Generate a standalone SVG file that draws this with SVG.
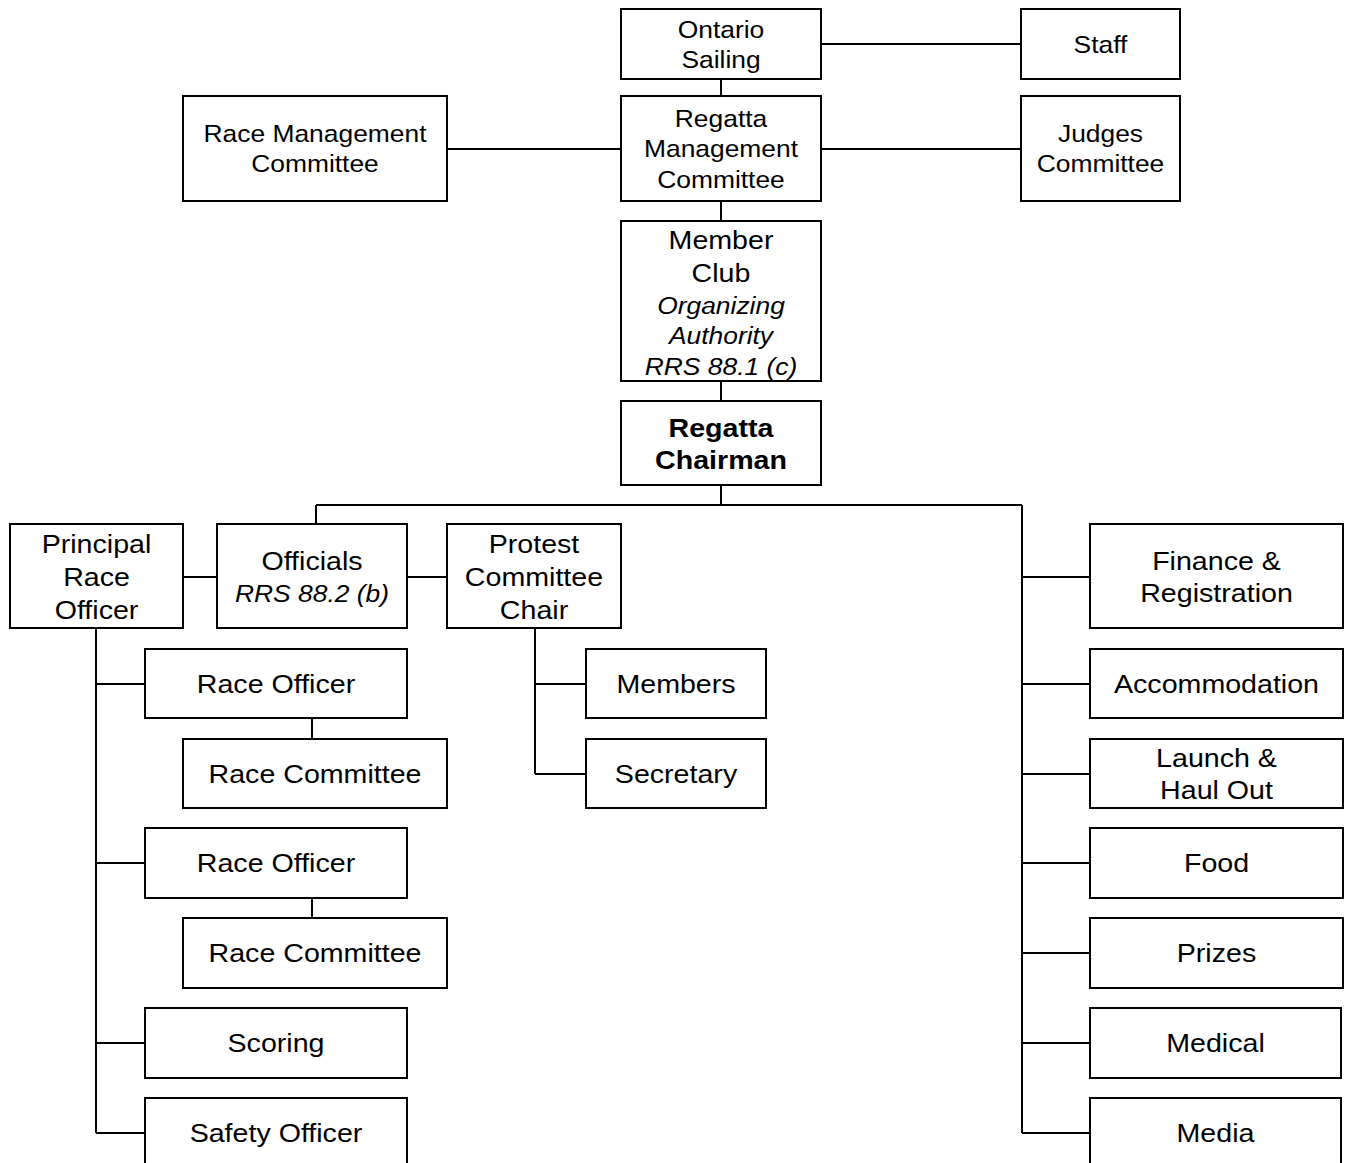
<svg xmlns="http://www.w3.org/2000/svg" width="1346" height="1163" viewBox="0 0 1346 1163">
<style>
.b{fill:#fff;stroke:#000;stroke-width:2}
.c{stroke:#000;stroke-width:2;fill:none}
text{font-family:"Liberation Sans",Arial,sans-serif;text-anchor:middle;fill:#000}
.s24{font-size:24px}
.s26{font-size:26px}
.i{font-style:italic}
.bd{font-weight:bold}
</style>
<rect width="1346" height="1163" fill="#fff"/>
<g id="connectors">
<path class="c" d="M821 44H1021M721 79V96M447 149H621M821 149H1021M721 201V221M721 381V401M721 485V505M316 505H1022M316 505V524M183 577H217M407 577H447"/>
<path class="c" d="M96 628V1133M96 684H145M96 863H145M96 1043H145M96 1133H145M312 718V739M312 898V918"/>
<path class="c" d="M535 628V774M535 684H586M535 774H586"/>
<path class="c" d="M1022 505V1133M1022 577H1090M1022 684H1090M1022 774H1090M1022 863H1090M1022 953H1090M1022 1043H1090M1022 1133H1090"/>
</g>
<g id="ontario"><rect class="b" x="621" y="9" width="200" height="70"/>
<text class="s24" transform="translate(721 0) scale(1.1 1)"><tspan x="0" y="38">Ontario</tspan><tspan x="0" y="68">Sailing</tspan></text></g>
<g id="staff"><rect class="b" x="1021" y="9" width="159" height="70"/>
<text class="s24" transform="translate(1100.5 0) scale(1.1 1)" x="0" y="53">Staff</text></g>
<g id="racemgmt"><rect class="b" x="183" y="96" width="264" height="105"/>
<text class="s24" transform="translate(315 0) scale(1.1 1)"><tspan x="0" y="142">Race Management</tspan><tspan x="0" y="172">Committee</tspan></text></g>
<g id="regattamgmt"><rect class="b" x="621" y="96" width="200" height="105"/>
<text class="s24" transform="translate(721 0) scale(1.1 1)"><tspan x="0" y="127">Regatta</tspan><tspan x="0" y="157">Management</tspan><tspan x="0" y="188">Committee</tspan></text></g>
<g id="judges"><rect class="b" x="1021" y="96" width="159" height="105"/>
<text class="s24" transform="translate(1100.5 0) scale(1.1 1)"><tspan x="0" y="142">Judges</tspan><tspan x="0" y="172">Committee</tspan></text></g>
<g id="memberclub"><rect class="b" x="621" y="221" width="200" height="160"/>
<text transform="translate(721 0) scale(1.1 1)"><tspan class="s26" x="0" y="249">Member</tspan><tspan class="s26" x="0" y="282">Club</tspan><tspan class="s24 i" x="0" y="314">Organizing</tspan><tspan class="s24 i" x="0" y="344">Authority</tspan><tspan class="s24 i" x="0" y="375">RRS 88.1 (c)</tspan></text></g>
<g id="chairman"><rect class="b" x="621" y="401" width="200" height="84"/>
<text class="s26 bd" transform="translate(721 0) scale(1.1 1)"><tspan x="0" y="437">Regatta</tspan><tspan x="0" y="469">Chairman</tspan></text></g>
<g id="pro"><rect class="b" x="10" y="524" width="173" height="104"/>
<text class="s26" transform="translate(96.5 0) scale(1.1 1)"><tspan x="0" y="553">Principal</tspan><tspan x="0" y="586">Race</tspan><tspan x="0" y="619">Officer</tspan></text></g>
<g id="officials"><rect class="b" x="217" y="524" width="190" height="104"/>
<text transform="translate(312 0) scale(1.1 1)"><tspan class="s26" x="0" y="570">Officials</tspan><tspan class="s24 i" x="0" y="602">RRS 88.2 (b)</tspan></text></g>
<g id="protest"><rect class="b" x="447" y="524" width="174" height="104"/>
<text class="s26" transform="translate(534 0) scale(1.1 1)"><tspan x="0" y="553">Protest</tspan><tspan x="0" y="586">Committee</tspan><tspan x="0" y="619">Chair</tspan></text></g>
<g id="raceofficer1"><rect class="b" x="145" y="649" width="262" height="69"/>
<text class="s26" transform="translate(276 0) scale(1.1 1)" x="0" y="693">Race Officer</text></g>
<g id="racecommittee1"><rect class="b" x="183" y="739" width="264" height="69"/>
<text class="s26" transform="translate(315 0) scale(1.1 1)" x="0" y="783">Race Committee</text></g>
<g id="raceofficer2"><rect class="b" x="145" y="828" width="262" height="70"/>
<text class="s26" transform="translate(276 0) scale(1.1 1)" x="0" y="872">Race Officer</text></g>
<g id="racecommittee2"><rect class="b" x="183" y="918" width="264" height="70"/>
<text class="s26" transform="translate(315 0) scale(1.1 1)" x="0" y="962">Race Committee</text></g>
<g id="scoring"><rect class="b" x="145" y="1008" width="262" height="70"/>
<text class="s26" transform="translate(276 0) scale(1.1 1)" x="0" y="1052">Scoring</text></g>
<g id="safety"><rect class="b" x="145" y="1098" width="262" height="70"/>
<text class="s26" transform="translate(276 0) scale(1.1 1)" x="0" y="1142">Safety Officer</text></g>
<g id="members"><rect class="b" x="586" y="649" width="180" height="69"/>
<text class="s26" transform="translate(676 0) scale(1.1 1)" x="0" y="693">Members</text></g>
<g id="secretary"><rect class="b" x="586" y="739" width="180" height="69"/>
<text class="s26" transform="translate(676 0) scale(1.1 1)" x="0" y="783">Secretary</text></g>
<g id="finance"><rect class="b" x="1090" y="524" width="253" height="104"/>
<text class="s26" transform="translate(1216.5 0) scale(1.1 1)"><tspan x="0" y="570">Finance &amp;</tspan><tspan x="0" y="602">Registration</tspan></text></g>
<g id="accommodation"><rect class="b" x="1090" y="649" width="253" height="69"/>
<text class="s26" transform="translate(1216.5 0) scale(1.1 1)" x="0" y="693">Accommodation</text></g>
<g id="launch"><rect class="b" x="1090" y="739" width="253" height="69"/>
<text class="s26" transform="translate(1216.5 0) scale(1.1 1)"><tspan x="0" y="767">Launch &amp;</tspan><tspan x="0" y="799">Haul Out</tspan></text></g>
<g id="food"><rect class="b" x="1090" y="828" width="253" height="70"/>
<text class="s26" transform="translate(1216.5 0) scale(1.1 1)" x="0" y="872">Food</text></g>
<g id="prizes"><rect class="b" x="1090" y="918" width="253" height="70"/>
<text class="s26" transform="translate(1216.5 0) scale(1.1 1)" x="0" y="962">Prizes</text></g>
<g id="medical"><rect class="b" x="1090" y="1008" width="251" height="70"/>
<text class="s26" transform="translate(1215.5 0) scale(1.1 1)" x="0" y="1052">Medical</text></g>
<g id="media"><rect class="b" x="1090" y="1098" width="251" height="70"/>
<text class="s26" transform="translate(1215.5 0) scale(1.1 1)" x="0" y="1142">Media</text></g>
</svg>
